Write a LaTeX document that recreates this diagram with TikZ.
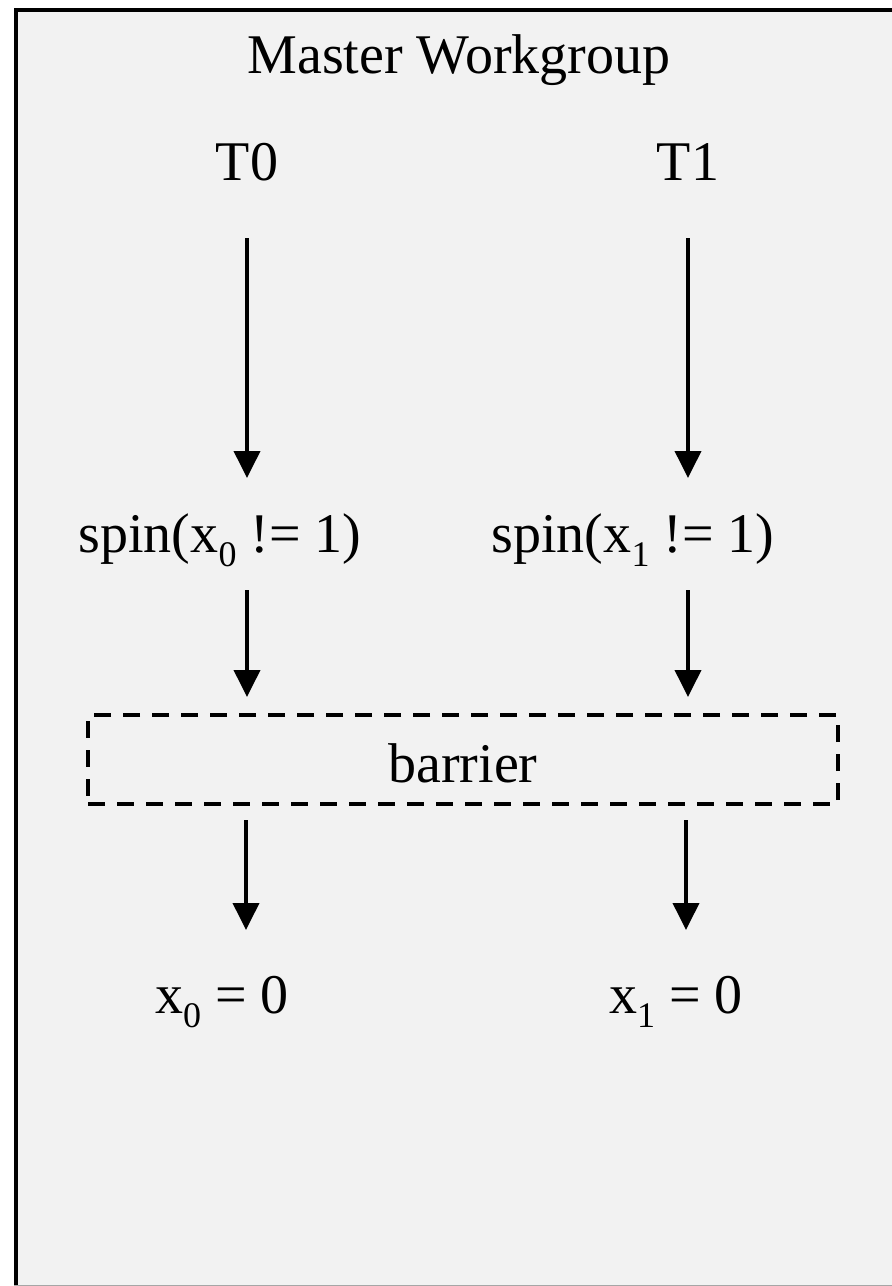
\documentclass[tikz,border=0pt]{standalone}
\usepackage{fontspec}
\setmainfont{Liberation Serif}
\usetikzlibrary{arrows.meta}
\definecolor{panelgray}{HTML}{F2F2F2}
\newcommand{\sbx}[1]{\raisebox{-0.25em}{\fontsize{36}{40}\selectfont #1}}
\tikzset{
  lbl/.style={anchor=base, inner sep=0pt, font=\fontsize{56}{66}\selectfont},
  flow/.style={line width=3.8pt, -{Triangle[width=26pt,length=27pt]}},
  barrierbox/.style={draw, line width=4pt, dash pattern=on 17pt off 12pt, inner sep=0pt}
}
\begin{document}
\begin{tikzpicture}[x=1pt,y=-1pt]
\useasboundingbox (0,0) rectangle (892,1286);
\fill[panelgray] (14,8) rectangle (892,1286);
\draw[line width=4pt] (16,1286) -- (16,10) -- (892,10);
\draw[gray!70, line width=1pt] (14,1285.5) -- (892,1285.5);

\node[lbl] (master) at (459,73) {Master Workgroup};
\node[lbl] (T0) at (247,180) {T0};
\node[lbl] (T1) at (688,180) {T1};
\node[lbl] (spin0) at (220,552) {spin(x\sbx{0} != 1)};
\node[lbl] (spin1) at (633,552) {spin(x\sbx{1} != 1)};
\node[barrierbox, minimum width=750pt, minimum height=89pt] (barrier) at (463,759.5) {};
\node[lbl] (barrierlabel) at (463,782) {barrier};
\node[lbl] (res0) at (222,1013) {x\sbx{0} = 0};
\node[lbl] (res1) at (676,1013) {x\sbx{1} = 0};

\coordinate (a1s) at (247,238); \coordinate (a1e) at (247,478);
\coordinate (b1s) at (688,238); \coordinate (b1e) at (688,478);
\coordinate (a2s) at (247,590); \coordinate (a2e) at (247,697);
\coordinate (b2s) at (688,590); \coordinate (b2e) at (688,697);
\coordinate (a3s) at (246,820); \coordinate (a3e) at (246,930);
\coordinate (b3s) at (686,820); \coordinate (b3e) at (686,930);

\draw[flow] (a1s) -- (a1e);
\draw[flow] (b1s) -- (b1e);
\draw[flow] (a2s) -- (a2e);
\draw[flow] (b2s) -- (b2e);
\draw[flow] (a3s) -- (a3e);
\draw[flow] (b3s) -- (b3e);
\end{tikzpicture}
\end{document}
